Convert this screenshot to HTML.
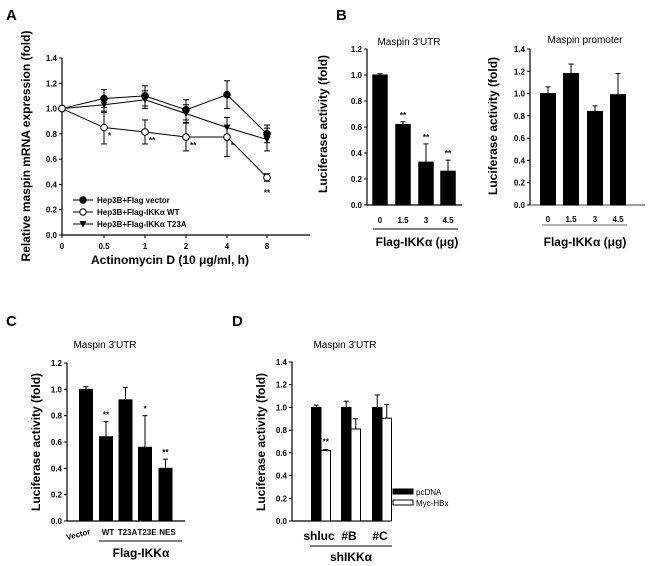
<!DOCTYPE html>
<html><head><meta charset="utf-8"><style>
body{margin:0;background:#fff}
svg{display:block;font-family:"Liberation Sans",Arial,sans-serif}
.t{font-size:8px;font-weight:bold}
.ax{font-size:12px;font-weight:bold}
.ttl{font-size:10px}
.pl{font-size:15px;font-weight:bold}
</style></head><body>
<svg id="fig" width="650" height="566" viewBox="0 0 650 566" xmlns="http://www.w3.org/2000/svg">
<text class="pl" x="6" y="20">A</text>
<text class="pl" x="336" y="20">B</text>
<text class="pl" x="6" y="326">C</text>
<text class="pl" x="232" y="326">D</text>
<g id="gA"></g>
<g id="gB1"></g>
<g id="gB2"></g>
<g id="gC"></g>
<g id="gD"></g>
</svg>
<script>
// Panel A data
const aCategories = ["0","0.5","1","2","4","8"];
const aVector = [1.0,1.08,1.10,0.99,1.11,0.80];
const aVectorErr = [0,0.07,0.08,0.08,0.11,0.07];
const aWT = [1.0,0.85,0.815,0.775,0.775,0.455];
const aWTErr = [0,0.13,0.095,0.11,0.155,0.03];
const aT23A = [1.0,1.03,1.07,0.96,0.85,0.755];
const aT23AErr = [0,0.06,0.07,0.07,0.08,0.09];
const aStars = ["","*","**","**","*","**"];
const aTicks = [0,0.2,0.4,0.6,0.8,1.0,1.2,1.4];
// Panel B data
const b1Categories = ["0","1.5","3","4.5"];
const b1Values = [1.0,0.62,0.33,0.26];
const b1Err = [0.01,0.02,0.14,0.085];
const b1Stars = ["","**","**","**"];
const b1Ticks = [0,0.2,0.4,0.6,0.8,1.0,1.2];
const b2Categories = ["0","1.5","3","4.5"];
const b2Values = [1.0,1.18,0.84,0.99];
const b2Err = [0.06,0.085,0.05,0.19];
const b2Ticks = [0,0.2,0.4,0.6,0.8,1.0,1.2,1.4];
// Panel C data
const cCategories = ["Vector","WT","T23A","T23E","NES"];
const cValues = [1.0,0.64,0.92,0.56,0.40];
const cErr = [0.02,0.115,0.095,0.24,0.07];
const cStars = ["","**","","*","**"];
const cTicks = [0,0.2,0.4,0.6,0.8,1.0,1.2];
// Panel D data
const dCategories = ["shluc","#B","#C"];
const dPcDNA = [1.0,1.0,1.0];
const dPcDNAErr = [0.02,0.055,0.11];
const dHBx = [0.62,0.81,0.905];
const dHBxErr = [0.01,0.09,0.12];
const dStars = ["**","",""];
const dTicks = [0,0.2,0.4,0.6,0.8,1.0,1.2,1.4];

const NS="http://www.w3.org/2000/svg";
function mk(parent,tag,attrs,text){const e=document.createElementNS(NS,tag);for(const k in attrs)e.setAttribute(k,attrs[k]);if(text!==undefined)e.textContent=text;parent.appendChild(e);return e;}
function lin(d0,d1,r0,r1){return v=>r0+(v-d0)*(r1-r0)/(d1-d0);}

function yAxis(g,x,y0,y1,ticks,yS,name){
  let e=mk(g,'line',{x1:x,y1:y0,x2:x,y2:y1,stroke:'#000','stroke-width':1.2});
  
  
  ticks.forEach(t=>{
    mk(g,'line',{x1:x-3,y1:yS(t),x2:x,y2:yS(t),stroke:'#000'});
    let l=mk(g,'text',{x:x-5,y:yS(t)+3,'text-anchor':'end',class:'t'},t.toFixed(1));
    
    
  });
}
function vtext(g,x,y,txt,name){
  let e=mk(g,'text',{x:0,y:0,transform:`translate(${x},${y}) rotate(-90)`,'text-anchor':'middle',class:'ax'},txt);
  
  
}
function errBar(g,x,yTop,yErr,name){
  let e=mk(g,'line',{x1:x,y1:yTop,x2:x,y2:yErr,stroke:'#000'});
  
  
  mk(g,'line',{x1:x-2.5,y1:yErr,x2:x+2.5,y2:yErr,stroke:'#000'});
}
function bar(g,cx,w,v,yS,fill,name){
  let e=mk(g,'rect',{x:cx-w/2,y:yS(v),width:w,height:yS(0)-yS(v),fill:fill,stroke:'#000','stroke-width':1});
  
  
}

// ---- Panel A ----
(function(){
  const g=document.getElementById('gA');
  const yS=lin(0,1.4,235,58);
  const xPos=[62,104,145,186,227,267];
  yAxis(g,62,235,58,aTicks,yS,'panel-a');
  let xa=mk(g,'line',{x1:62,y1:235,x2:310,y2:235,stroke:'#000','stroke-width':1.2});
  
  
  aCategories.forEach((c,i)=>{
    mk(g,'line',{x1:xPos[i],y1:235,x2:xPos[i],y2:238,stroke:'#000'});
    let l=mk(g,'text',{x:xPos[i],y:249,'text-anchor':'middle',class:'t'},c);
    
    
  });
  const series=[[aVector,aVectorErr,'vector','circle-filled'],[aT23A,aT23AErr,'t23a','tri'],[aWT,aWTErr,'wt','circle-open']];
  series.forEach(([vals,errs,nm,mkType])=>{
    const pts=vals.map((v,i)=>xPos[i]+','+yS(v)).join(' ');
    let pl=mk(g,'polyline',{points:pts,fill:'none',stroke:'#000','stroke-width':1});
    
    
    vals.forEach((v,i)=>{
      if(errs[i]>0){
        mk(g,'line',{x1:xPos[i],y1:yS(v-errs[i]),x2:xPos[i],y2:yS(v+errs[i]),stroke:'#000'});
        mk(g,'line',{x1:xPos[i]-3,y1:yS(v+errs[i]),x2:xPos[i]+3,y2:yS(v+errs[i]),stroke:'#000'});
        mk(g,'line',{x1:xPos[i]-3,y1:yS(v-errs[i]),x2:xPos[i]+3,y2:yS(v-errs[i]),stroke:'#000'});
      }
    });
    vals.forEach((v,i)=>{
      let m;
      const x=xPos[i],y=yS(v);
      if(mkType==='tri') m=mk(g,'polygon',{points:`${x-3.5},${y-3} ${x+3.5},${y-3} ${x},${y+3.5}`,fill:'#000'});
      else m=mk(g,'circle',{cx:x,cy:y,r:3.3,fill:mkType==='circle-open'?'#fff':'#000',stroke:'#000'});
      
      
    });
  });
  aStars.forEach((s,i)=>{
    if(!s)return;
    const last=i===5;
    let t=mk(g,'text',{x:last?xPos[i]:xPos[i]+4,y:last?yS(aWT[i]-aWTErr[i])+14:yS(aWT[i])+11,'text-anchor':last?'middle':'start',class:'t'},s);
    
    
  });
  const leg=[['Hep3B+Flag vector','f'],['Hep3B+Flag-IKKα WT','o'],['Hep3B+Flag-IKKα T23A','t']];
  leg.forEach(([txt,k],i)=>{
    const y=200+i*12;
    let gg=mk(g,'g',{});
    
    
    mk(gg,'line',{x1:73,y1:y,x2:93,y2:y,stroke:'#000'});
    if(k==='t') mk(gg,'polygon',{points:`79.5,${y-3} 86.5,${y-3} 83,${y+3.5}`,fill:'#000'});
    else mk(gg,'circle',{cx:83,cy:y,r:3.2,fill:k==='o'?'#fff':'#000',stroke:'#000'});
    mk(gg,'text',{x:97,y:y+3,class:'t','font-size':'7.5px'},txt);
  });
  let xt=mk(g,'text',{x:170,y:264,'text-anchor':'middle',class:'ax'},'Actinomycin D (10 μg/ml, h)');
  
  
  vtext(g,30,146,'Relative maspin mRNA expression (fold)','panel-a-y-axis-title');
})();

// ---- Panel B left ----
(function(){
  const g=document.getElementById('gB1');
  const yS=lin(0,1.2,205,49);
  const xPos=[380,403,426,448];
  yAxis(g,367,205,49,b1Ticks,yS,'panel-b1');
  mk(g,'line',{x1:367,y1:205,x2:462,y2:205,stroke:'#000','stroke-width':1.2});
  b1Values.forEach((v,i)=>{
    errBar(g,xPos[i],yS(v),yS(v+b1Err[i]),'error-bar');
    bar(g,xPos[i],14.5,v,yS,'#000','bar-utr-'+b1Categories[i]);
    if(b1Stars[i]){let s=mk(g,'text',{x:xPos[i],y:yS(v+b1Err[i])-4,'text-anchor':'middle',class:'t'},b1Stars[i]);
      }
    let l=mk(g,'text',{x:xPos[i],y:223,'text-anchor':'middle',class:'t'},b1Categories[i]);
    
  });
  mk(g,'line',{x1:373,y1:229,x2:458,y2:229,stroke:'#000'});
  let x=mk(g,'text',{x:417,y:246,'text-anchor':'middle',class:'ax'},'Flag-IKKα (μg)');
  
  let t=mk(g,'text',{x:409,y:45,'text-anchor':'middle',class:'ttl'},"Maspin 3'UTR");
  
  vtext(g,327,124,'Luciferase activity (fold)','panel-b1-y-axis-title');
})();

// ---- Panel B right ----
(function(){
  const g=document.getElementById('gB2');
  const yS=lin(0,1.4,205,49);
  const xPos=[548,571,595,618];
  yAxis(g,530,205,49,b2Ticks,yS,'panel-b2');
  mk(g,'line',{x1:530,y1:205,x2:645,y2:205,stroke:'#666','stroke-width':1.2});
  b2Values.forEach((v,i)=>{
    errBar(g,xPos[i],yS(v),yS(v+b2Err[i]),'error-bar');
    bar(g,xPos[i],15,v,yS,'#000','bar-promoter-'+b2Categories[i]);
    let l=mk(g,'text',{x:xPos[i],y:222,'text-anchor':'middle',class:'t'},b2Categories[i]);
    
  });
  mk(g,'line',{x1:542,y1:225,x2:627,y2:225,stroke:'#666'});
  let x=mk(g,'text',{x:585,y:246,'text-anchor':'middle',class:'ax'},'Flag-IKKα (μg)');
  
  let t=mk(g,'text',{x:585,y:43,'text-anchor':'middle',class:'ttl'},'Maspin promoter');
  
  vtext(g,497,126,'Luciferase activity (fold)','panel-b2-y-axis-title');
})();

// ---- Panel C ----
(function(){
  const g=document.getElementById('gC');
  const yS=lin(0,1.2,521,363);
  const xPos=[86,106,125.5,145,165.5];
  yAxis(g,67,521,363,cTicks,yS,'panel-c');
  mk(g,'line',{x1:67,y1:521,x2:185,y2:521,stroke:'#000','stroke-width':1.2});
  cValues.forEach((v,i)=>{
    errBar(g,xPos[i],yS(v),yS(v+cErr[i]),'error-bar');
    bar(g,xPos[i],13,v,yS,'#000','bar-'+cCategories[i].toLowerCase());
    if(cStars[i]){let s=mk(g,'text',{x:xPos[i],y:yS(v+cErr[i])-4,'text-anchor':'middle',class:'t'},cStars[i]);
      }
    let l;
    if(i===0) l=mk(g,'text',{x:0,y:0,transform:`translate(${xPos[i]-7},${537}) rotate(-15)`,'text-anchor':'middle',class:'t','font-size':'7px'},cCategories[i]);
    else l=mk(g,'text',{x:xPos[i]+2,y:535,'text-anchor':'middle',class:'t','font-size':'7px'},cCategories[i]);
    
  });
  mk(g,'line',{x1:99,y1:541,x2:182,y2:541,stroke:'#000'});
  let x=mk(g,'text',{x:141,y:557,'text-anchor':'middle',class:'ax','font-size':'11px'},'Flag-IKKα');
  
  let t=mk(g,'text',{x:105,y:348,'text-anchor':'middle',class:'ttl'},"Maspin 3'UTR");
  
  vtext(g,40,442,'Luciferase activity (fold)','panel-c-y-axis-title');
})();

// ---- Panel D ----
(function(){
  const g=document.getElementById('gD');
  const yS=lin(0,1.4,521,362);
  const xPos=[321,351,382];
  const w=9.5;
  yAxis(g,292,521,362,dTicks,yS,'panel-d');
  mk(g,'line',{x1:292,y1:521,x2:391,y2:521,stroke:'#000','stroke-width':1.2});
  dCategories.forEach((c,i)=>{
    const xb=xPos[i]-w/2, xw=xPos[i]+w/2;
    errBar(g,xb,yS(dPcDNA[i]),yS(dPcDNA[i]+dPcDNAErr[i]),'error-bar');
    errBar(g,xw,yS(dHBx[i]),yS(dHBx[i]+dHBxErr[i]),'error-bar');
    bar(g,xb,w,dPcDNA[i],yS,'#000','bar-pcdna-'+i);
    bar(g,xw,w,dHBx[i],yS,'#fff','bar-hbx-'+i);
    if(dStars[i]){let s=mk(g,'text',{x:xw,y:yS(dHBx[i]+dHBxErr[i])-5,'text-anchor':'middle',class:'t'},dStars[i]);
      }
    let l=mk(g,'text',{x:xPos[i]-2,y:540,'text-anchor':'middle',class:'ax','font-size':'10px'},c);
    
  });
  mk(g,'line',{x1:310,y1:546,x2:392,y2:546,stroke:'#000'});
  let x=mk(g,'text',{x:351,y:561,'text-anchor':'middle',class:'ax'},'shIKKα');
  
  let t=mk(g,'text',{x:345,y:348,'text-anchor':'middle',class:'ttl'},"Maspin 3'UTR");
  
  vtext(g,265,442,'Luciferase activity (fold)','panel-d-y-axis-title');
  [['pcDNA','#000'],['Myc-HBx','#fff']].forEach(([txt,f],i)=>{
    const y=492+i*11;
    let gg=mk(g,'g',{});
    
    
    mk(gg,'rect',{x:393,y:y-3,width:20,height:5,fill:f,stroke:'#000'});
    mk(gg,'text',{x:416,y:y+3,'font-size':'8px'},txt);
  });
})();
</script>
</body></html>
